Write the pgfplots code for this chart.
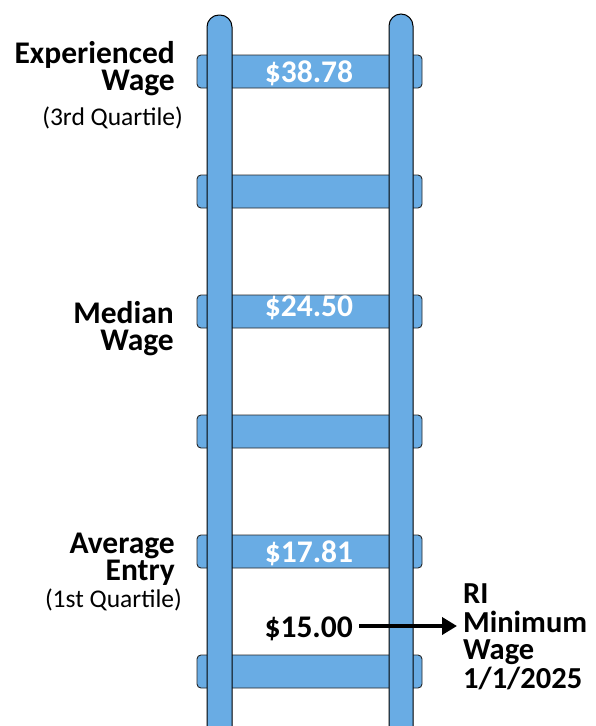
\documentclass[border=0pt]{standalone}
\usepackage{pgfplots}
\pgfplotsset{compat=1.18}
\usetikzlibrary{arrows.meta}
\usepackage{fontspec}
\setmainfont{Carlito}
\definecolor{ladder}{RGB}{105,172,228}
\newcommand{\rlines}[1]{\begin{tabular}[t]{@{}r@{}}#1\end{tabular}}
\newcommand{\llines}[1]{\begin{tabular}[t]{@{}l@{}}#1\end{tabular}}
\begin{document}
\begin{tikzpicture}
\begin{axis}[name=ax,
  width=595pt, height=726pt, scale only axis,
  xmin=0, xmax=595, ymin=0, ymax=726, y dir=reverse,
  hide axis, clip=true]
% rungs (top y, bottom y)
\pgfplotsinvokeforeach{55,175,295,415,535,655}{
  \addplot[fill=ladder, draw=black!85, line width=0.9pt, rounded corners=4pt]
    coordinates {(197,#1) (422,#1) (422,#1+33) (197,#1+33)} -- cycle;
}
% rails
\addplot[fill=ladder, draw=black, line width=1pt, rounded corners=12pt]
  coordinates {(207,15) (232,15) (232,740) (207,740)} -- cycle;
\addplot[fill=ladder, draw=black, line width=1pt, rounded corners=12pt]
  coordinates {(389,14) (413,14) (413,740) (389,740)} -- cycle;
% minimum wage arrow
\addplot[line width=4.5pt, -{Triangle[length=15pt,width=17pt]}]
  coordinates {(359,626) (457,626)};
% rung values
\node[anchor=base, text=white, font=\fontsize{31.5}{31}\selectfont\bfseries] at (axis cs:309,82) {\$38.78};
\node[anchor=base, text=white, font=\fontsize{31.5}{31}\selectfont\bfseries] at (axis cs:309,316) {\$24.50};
\node[anchor=base, text=white, font=\fontsize{31.5}{31}\selectfont\bfseries] at (axis cs:309,562) {\$17.81};
\node[anchor=base east, text=black, font=\fontsize{31.5}{31}\selectfont\bfseries, inner sep=0pt] at (axis cs:353,637) {\$15.00};
% left labels
\node[anchor=base east, inner sep=0pt, font=\fontsize{31.5}{25}\selectfont\bfseries] at (axis cs:175,63) {\rlines{Experienced\\Wage}};
\node[anchor=base east, inner sep=0pt, font=\fontsize{25.5}{25.5}\selectfont] at (axis cs:183,125) {(3rd Quartile)};
\node[anchor=base east, inner sep=0pt, font=\fontsize{31.5}{25}\selectfont\bfseries] at (axis cs:174,323) {\rlines{Median\\Wage}};
\node[anchor=base east, inner sep=0pt, font=\fontsize{31.5}{25}\selectfont\bfseries] at (axis cs:175,553) {\rlines{Average\\Entry}};
\node[anchor=base east, inner sep=0pt, font=\fontsize{25.5}{25.5}\selectfont] at (axis cs:182,607) {(1st Quartile)};
% right labels
\node[anchor=base west, inner sep=0pt, font=\fontsize{30.5}{25.7}\selectfont\bfseries] at (axis cs:463,603) {\llines{RI\\Minimum\\Wage\\1/1/2025}};
\end{axis}
\pgfresetboundingbox
\path (ax.south west) rectangle (ax.north east);
\end{tikzpicture}
\end{document}
